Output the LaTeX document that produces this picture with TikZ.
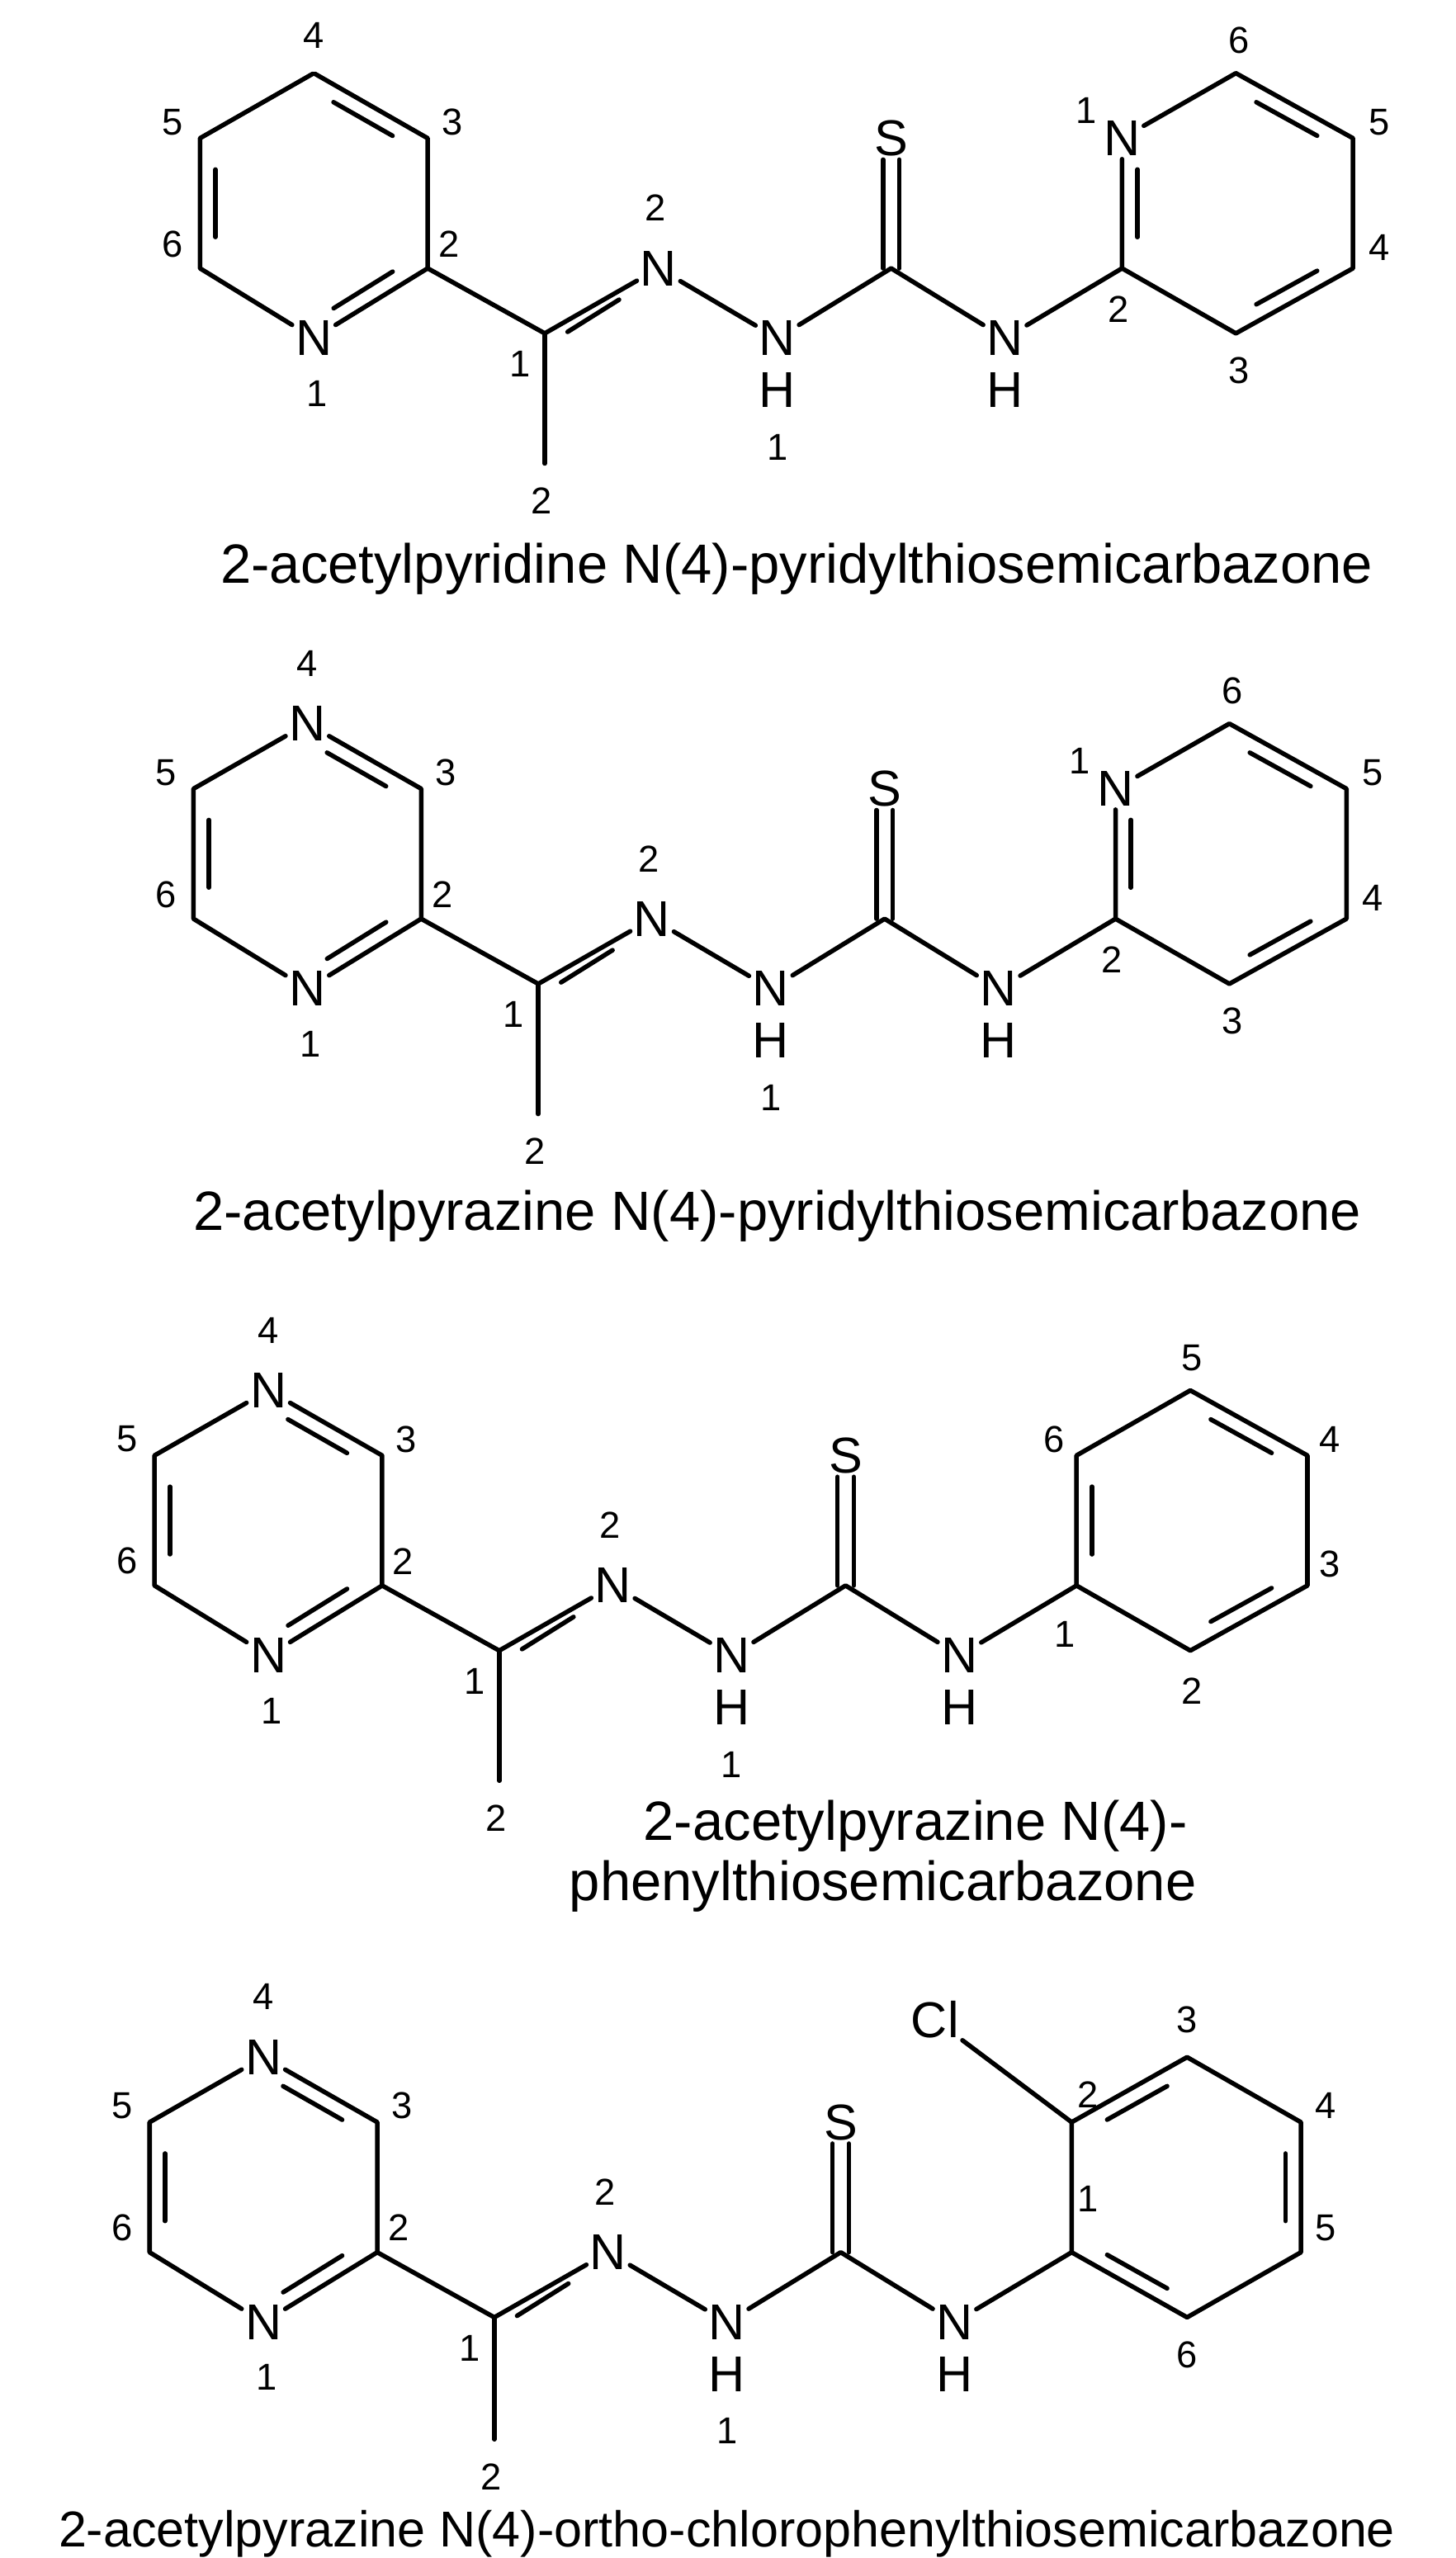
\documentclass[tikz,border=0pt]{standalone}
\usepackage{fontspec}
\setmainfont{Liberation Sans}
\usetikzlibrary{calc}
\tikzset{
 atom/.style={inner sep=2pt,font=\fontsize{31}{34}\selectfont},
 bare/.style={inner sep=0pt},
 num/.style={inner sep=0pt,font=\fontsize{23}{26}\selectfont},
 captext/.style={inner sep=0pt,font=\fontsize{34}{40}\selectfont},
 bond/.style={line width=2.8pt,line cap=round,line join=round}
}
\newcommand{\dbl}[3]{\draw[bond] ($ ($(#1)!0.2!(#2)$)!10pt!(#3) $) -- ($ ($(#2)!0.2!(#1)$)!10pt!(#3) $);}
\newcommand{\core}[4]{%
 \coordinate (lc) at (193,125);
 \node[#1] (l4) at (193,45) {#2};
 \coordinate (l3) at (263,85); \coordinate (l2) at (263,165);
 \node[atom] (l1) at (193,208) {N};
 \coordinate (l6) at (123,165); \coordinate (l5) at (123,85);
 \coordinate (c1) at (335,205); \coordinate (me) at (335,#4);
 \node[atom] (n2) at (405,165) {N};
 \node[atom] (nh) at (478,208) {N}; \node[atom] (hh) at (478,240) {H};
 \coordinate (cs) at (548,165);
 \node[atom] (s) at (548,85) {S};
 \node[atom] (nh2) at (618,208) {N}; \node[atom] (h2) at (618,240) {H};
 \coordinate (r1) at (690,165);
 \draw[bond] (l4) -- (l3) -- (l2) -- (l1) -- (l6) -- (l5) -- (l4);
 \dbl{l4}{l3}{lc} \dbl{l2}{l1}{lc} \dbl{l6}{l5}{lc}
 \draw[bond] (l2) -- (c1) -- (n2) -- (nh) -- (cs) -- (nh2) -- (r1);
 \draw[bond] (c1) -- (me);
 \draw[bond] ($(c1)!0.22!(n2)!8pt!(me)$) -- ($(n2)!0.3!(c1)!8pt!(me)$);
 \draw[bond] ($(cs)+(-5,0)$) -- ($(s.south)+(-5,0)$);
 \draw[bond] ($(cs)+(5,0)$) -- ($(s.south)+(5,0)$);
 \node[num] at (193,#3) {4}; \node[num] at (278,75) {3};
 \node[num] at (276,150) {2}; \node[num] at (106,75) {5};
 \node[num] at (106,150) {6}; \node[num] at (195,242) {1};
 \node[num] at (320,224) {1}; \node[num] at (333,#4+23) {2};
 \node[num] at (403,128) {2}; \node[num] at (478,275) {1};
}
\newcommand{\pyr}{%
 \coordinate (rc) at (761,125);
 \node[atom] (rn) at (690,85) {N};
 \coordinate (r6) at (760,45); \coordinate (r5) at (832,85);
 \coordinate (r4) at (832,165); \coordinate (r3) at (760,205);
 \draw[bond] (r1) -- (rn) -- (r6) -- (r5) -- (r4) -- (r3) -- (r1);
 \dbl{r1}{rn}{rc} \dbl{r6}{r5}{rc} \dbl{r4}{r3}{rc}
 \node[num] at (668,68) {1}; \node[num] at (762,25) {6};
 \node[num] at (848,75) {5}; \node[num] at (848,152) {4};
 \node[num] at (762,228) {3}; \node[num] at (688,190) {2};
}
\begin{document}
\begin{tikzpicture}[x=1pt,y=-1pt]
\useasboundingbox (0,0) rectangle (895,1573);
\begin{scope}
 \core{bare}{}{22}{285} \pyr
\end{scope}
\node[captext] at (490,350) {2-acetylpyridine N(4)-pyridylthiosemicarbazone};
\begin{scope}[shift={(-4,400)}]
 \core{atom}{N}{8}{285} \pyr
\end{scope}
\node[captext] at (478,748) {2-acetylpyrazine N(4)-pyridylthiosemicarbazone};
\begin{scope}[shift={(-28,810)}]
 \core{atom}{N}{8}{285}
 \coordinate (rc) at (761,125);
 \coordinate (r6) at (690,85); \coordinate (r5) at (760,45);
 \coordinate (r4) at (832,85); \coordinate (r3) at (832,165); \coordinate (r2) at (760,205);
 \draw[bond] (r1) -- (r6) -- (r5) -- (r4) -- (r3) -- (r2) -- (r1);
 \dbl{r1}{r6}{rc} \dbl{r5}{r4}{rc} \dbl{r3}{r2}{rc}
 \node[num] at (676,75) {6}; \node[num] at (761,25) {5};
 \node[num] at (846,75) {4}; \node[num] at (846,152) {3};
 \node[num] at (761,230) {2}; \node[num] at (683,195) {1};
\end{scope}
\node[captext] at (563,1123) {2-acetylpyrazine N(4)-};
\node[captext] at (543,1160) {phenylthiosemicarbazone};
\begin{scope}[shift={(-31,1220)}]
 \core{atom}{N}{8}{280}
 \coordinate (rc) at (761,125);
 \coordinate (r2) at (690,85); \coordinate (r3) at (761,45);
 \coordinate (r4) at (831,85); \coordinate (r5) at (831,165); \coordinate (r6) at (761,205);
 \node[atom] (cl) at (606,22) {Cl};
 \draw[bond] (r1) -- (r2) -- (r3) -- (r4) -- (r5) -- (r6) -- (r1);
 \draw[bond] (r2) -- (cl);
 \dbl{r2}{r3}{rc} \dbl{r4}{r5}{rc} \dbl{r6}{r1}{rc}
 \node[num] at (761,22) {3}; \node[num] at (846,75) {4};
 \node[num] at (846,150) {5}; \node[num] at (761,228) {6};
 \node[num] at (700,68) {2}; \node[num] at (700,132) {1};
\end{scope}
\node[captext,font=\fontsize{31}{36}\selectfont] at (447,1558) {2-acetylpyrazine N(4)-ortho-chlorophenylthiosemicarbazone};
\end{tikzpicture}
\end{document}
